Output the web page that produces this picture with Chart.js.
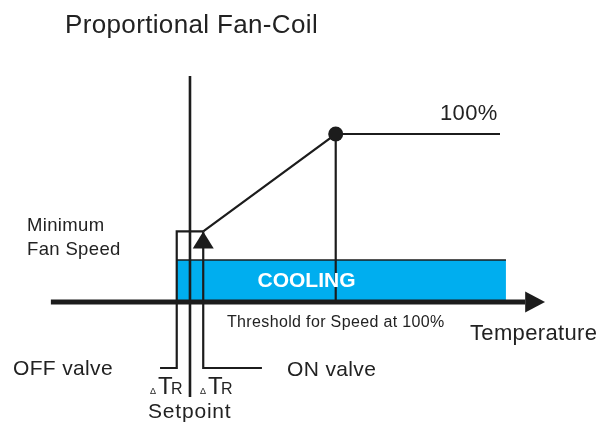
<!DOCTYPE html>
<html>
<head>
<meta charset="utf-8">
<script src="https://cdn.jsdelivr.net/npm/chart.js@4/dist/chart.umd.min.js"></script>
<style>
  html, body { margin: 0; padding: 0; background: #fff; }
  #wrap { width: 604px; height: 428px; position: relative; }
</style>
</head>
<body>
<div id="wrap"><canvas id="fan-chart"></canvas></div>
<script>
// x = temperature offset from setpoint (in units of deltaT_R), y = fan speed (%)
var speedX = [1, 11, 23.4];
var speedY = [42, 100, 100];
var thresholdX = [11, 11];
var thresholdY = [0, 100];
var setpointX = [0, 0];
var setpointY = [134.5, -56.5];
var offValveX = [1, -1, -1, -2.26];
var offValveY = [42, 42, -39.3, -39.3];
var onValveX = [1, 1, 5.43];
var onValveY = [42, -39.3, -39.3];
var coolingX = [-1, 23.85];
var coolingY = [25, 25];
var axisX = [-10.5, 25.3];
var axisY = [0, 0];
var arrowTip = 26.8;

var INK = '#1c1c1c';
var BLUE = '#00aeef';
var FONT = '"Liberation Sans", Arial, sans-serif';

function pts(xs, ys) {
  return xs.map(function (v, i) { return { x: v, y: ys[i] }; });
}

function lineSet(xs, ys, width, order) {
  return {
    data: pts(xs, ys),
    borderColor: INK,
    borderWidth: width,
    pointRadius: 0,
    tension: 0,
    fill: false,
    order: order
  };
}

// arrowheads and text
var decorPlugin = {
  id: 'decor',
  afterDatasetsDraw: function (chart) {
    var ctx = chart.ctx;
    var sx = chart.scales.x, sy = chart.scales.y;
    ctx.save();
    ctx.fillStyle = INK;

    // axis arrow
    var tipX = sx.getPixelForValue(arrowTip);
    var baseX = sx.getPixelForValue(axisX[1]);
    var ay = sy.getPixelForValue(0);
    ctx.beginPath();
    ctx.moveTo(tipX, ay);
    ctx.lineTo(baseX, ay - 10.5);
    ctx.lineTo(baseX, ay + 10.5);
    ctx.closePath();
    ctx.fill();

    // ON valve arrow
    var ox = sx.getPixelForValue(onValveX[0]);
    var oy = sy.getPixelForValue(onValveY[0]);
    ctx.beginPath();
    ctx.moveTo(ox, oy);
    ctx.lineTo(ox - 10.5, oy + 17);
    ctx.lineTo(ox + 10.5, oy + 17);
    ctx.closePath();
    ctx.fill();

    // texts
    ctx.textBaseline = 'alphabetic';
    ctx.textAlign = 'left';
    ctx.fillStyle = '#222';
    ctx.letterSpacing = '0.35px';
    ctx.font = '26px ' + FONT;
    ctx.fillText('Proportional Fan-Coil', 65, 33);

    ctx.font = '18.5px ' + FONT;
    ctx.fillText('Minimum', 27, 231);
    ctx.fillText('Fan Speed', 27, 255);

    ctx.font = '22px ' + FONT;
    ctx.fillText('100%', 440, 120);
    ctx.fillText('Temperature', 470, 340);

    ctx.font = '16px ' + FONT;
    ctx.fillText('Threshold for Speed at 100%', 227, 327);

    ctx.font = '21px ' + FONT;
    ctx.fillText('OFF valve', 13, 375);
    ctx.fillText('ON valve', 287, 376);
    ctx.letterSpacing = '0.8px';
    ctx.fillText('Setpoint', 148, 418);
    ctx.letterSpacing = '0px';

    [150, 200].forEach(function (x0) {
      ctx.font = '9px ' + FONT;
      ctx.fillText('\u0394', x0, 394);
      ctx.font = '24px ' + FONT;
      ctx.fillText('T', x0 + 8, 394);
      ctx.font = '16px ' + FONT;
      ctx.fillText('R', x0 + 21, 394);
    });

    ctx.fillStyle = '#fff';
    ctx.font = 'bold 21px ' + FONT;
    ctx.textAlign = 'center';
    ctx.fillText('COOLING', 306.5, 287);
    ctx.restore();
  }
};

var speedSet = lineSet(speedX, speedY, 2.2, 1);
speedSet.pointRadius = [0, 7.5, 0];
speedSet.pointBackgroundColor = INK;
speedSet.pointBorderWidth = 0;

var coolingSet = {
  data: pts(coolingX, coolingY),
  borderColor: INK,
  borderWidth: 1.5,
  backgroundColor: BLUE,
  pointRadius: 0,
  fill: 'origin',
  order: 9
};

var ctx = document.getElementById('fan-chart');
new Chart(ctx, {
  type: 'line',
  data: {
    datasets: [
      coolingSet,
      lineSet(axisX, axisY, 5, 2),
      lineSet(thresholdX, thresholdY, 2.2, 3),
      lineSet(setpointX, setpointY, 2.6, 3),
      lineSet(offValveX, offValveY, 2.2, 3),
      lineSet(onValveX, onValveY, 2.2, 3),
      speedSet
    ]
  },
  options: {
    responsive: true,
    maintainAspectRatio: false,
    animation: false,
    devicePixelRatio: 1,
    layout: { padding: 0 },
    scales: {
      x: { type: 'linear', min: -14.34, max: 31.25, display: false },
      y: { type: 'linear', min: -75, max: 179.76, display: false }
    },
    plugins: {
      legend: { display: false },
      tooltip: { enabled: false }
    }
  },
  plugins: [decorPlugin]
});
</script>
</body>
</html>
